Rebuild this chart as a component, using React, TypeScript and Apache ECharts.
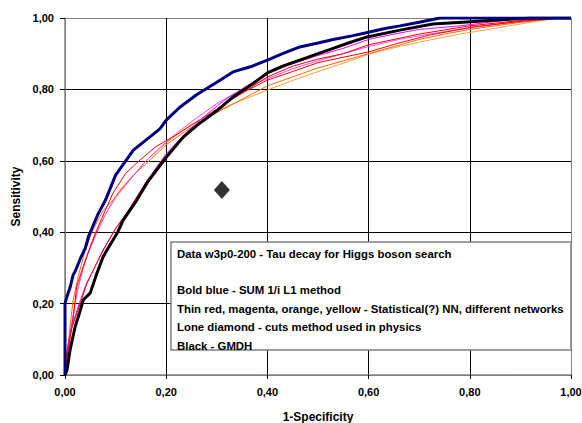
import React, { useEffect, useRef } from "react";
import * as echarts from "echarts";

const tickLabels = ["0,00", "0,20", "0,40", "0,60", "0,80", "1,00"];

const blueCurve: [number, number][] = [
  [0, 0], [0, 0.2], [0.004, 0.22], [0.01, 0.245], [0.016, 0.28], [0.02, 0.29], [0.03, 0.325],
  [0.04, 0.355], [0.047, 0.39], [0.065, 0.45], [0.08, 0.49], [0.1, 0.56], [0.12, 0.6],
  [0.135, 0.63], [0.168, 0.667], [0.188, 0.69], [0.2, 0.714], [0.227, 0.75], [0.26, 0.785],
  [0.3, 0.82], [0.332, 0.849], [0.37, 0.865], [0.4, 0.882], [0.43, 0.9], [0.464, 0.919],
  [0.5, 0.93], [0.53, 0.94], [0.567, 0.95], [0.6, 0.96], [0.63, 0.97], [0.662, 0.978],
  [0.7, 0.988], [0.741, 1.0], [1, 1],
];

const blackCurve: [number, number][] = [
  [0, 0], [0.004, 0.014], [0.01, 0.07], [0.02, 0.135], [0.03, 0.18], [0.036, 0.21], [0.05, 0.23],
  [0.063, 0.285], [0.075, 0.33], [0.083, 0.35], [0.103, 0.397], [0.115, 0.434], [0.142, 0.49],
  [0.162, 0.538], [0.2, 0.61], [0.234, 0.667], [0.267, 0.706], [0.3, 0.74], [0.332, 0.779],
  [0.37, 0.815], [0.4, 0.846], [0.43, 0.865], [0.464, 0.882], [0.5, 0.9], [0.53, 0.915],
  [0.56, 0.93], [0.597, 0.947], [0.662, 0.966], [0.727, 0.983], [0.794, 0.989], [0.86, 0.995],
  [0.92, 1], [1, 1],
];

const redLowCurve: [number, number][] = [
  [0, 0], [0.004, 0.06], [0.013, 0.13], [0.03, 0.2], [0.043, 0.255], [0.056, 0.294], [0.075, 0.35],
  [0.1, 0.41], [0.13, 0.47], [0.16, 0.54], [0.2, 0.615], [0.24, 0.67], [0.27, 0.71], [0.31, 0.755],
  [0.35, 0.79], [0.4, 0.835], [0.45, 0.865], [0.5, 0.885], [0.55, 0.9], [0.6, 0.925],
  [0.7, 0.955], [0.8, 0.978], [0.9, 0.993], [0.95, 1], [1, 1],
];

const magentaLowCurve: [number, number][] = [
  [0, 0], [0.004, 0.07], [0.012, 0.13], [0.028, 0.2], [0.042, 0.255], [0.058, 0.3], [0.078, 0.355],
  [0.1, 0.41], [0.125, 0.46], [0.16, 0.54], [0.2, 0.62], [0.24, 0.68], [0.28, 0.73], [0.32, 0.775],
  [0.36, 0.81], [0.4, 0.845], [0.45, 0.872], [0.5, 0.895], [0.55, 0.915], [0.6, 0.94],
  [0.65, 0.955], [0.7, 0.968], [0.78, 0.978], [0.85, 0.99], [0.92, 1], [1, 1],
];

const redUpCurve: [number, number][] = [
  [0, 0], [0.005, 0.06], [0.016, 0.16], [0.023, 0.247], [0.035, 0.3], [0.05, 0.36], [0.07, 0.43],
  [0.095, 0.51], [0.12, 0.565], [0.148, 0.602], [0.18, 0.64], [0.213, 0.667], [0.25, 0.7],
  [0.3, 0.745], [0.35, 0.79], [0.4, 0.826], [0.45, 0.85], [0.5, 0.875], [0.543, 0.888],
  [0.6, 0.905], [0.66, 0.93], [0.72, 0.952], [0.806, 0.975], [0.893, 0.989], [0.97, 1], [1, 1],
];

const magentaUpCurve: [number, number][] = [
  [0, 0], [0.004, 0.06], [0.014, 0.15], [0.025, 0.24], [0.04, 0.32], [0.06, 0.39], [0.08, 0.45],
  [0.1, 0.5], [0.128, 0.546], [0.16, 0.6], [0.19, 0.64], [0.221, 0.678], [0.26, 0.72], [0.3, 0.76],
  [0.35, 0.8], [0.4, 0.83], [0.45, 0.858], [0.5, 0.88], [0.55, 0.9], [0.6, 0.92], [0.66, 0.94],
  [0.72, 0.955], [0.8, 0.972], [0.88, 0.988], [0.96, 1], [1, 1],
];

const orangeCurve: [number, number][] = [
  [0, 0], [0.004, 0.05], [0.01, 0.135], [0.016, 0.21], [0.026, 0.275], [0.04, 0.35], [0.055, 0.406],
  [0.075, 0.46], [0.095, 0.49], [0.109, 0.518], [0.135, 0.56], [0.162, 0.594], [0.2, 0.645],
  [0.241, 0.686], [0.28, 0.72], [0.32, 0.75], [0.36, 0.78], [0.4, 0.81], [0.45, 0.835],
  [0.5, 0.86], [0.55, 0.88], [0.6, 0.9], [0.65, 0.92], [0.7, 0.94], [0.75, 0.955], [0.8, 0.968],
  [0.85, 0.978], [0.9, 0.988], [0.95, 0.995], [0.98, 1], [1, 1],
];

const yellowCurve: [number, number][] = [
  [0, 0], [0.005, 0.04], [0.012, 0.12], [0.02, 0.2], [0.03, 0.27], [0.045, 0.34], [0.06, 0.4],
  [0.08, 0.45], [0.1, 0.495], [0.13, 0.55], [0.16, 0.6], [0.2, 0.65], [0.247, 0.7], [0.3, 0.74],
  [0.35, 0.77], [0.4, 0.798], [0.45, 0.825], [0.5, 0.85], [0.543, 0.87], [0.603, 0.9],
  [0.66, 0.92], [0.72, 0.938], [0.78, 0.955], [0.854, 0.972], [0.92, 0.988], [0.97, 1], [1, 1],
];

const diamondPoint: [number, number][] = [[0.31, 0.518]];

const noteLines = [
  "Data w3p0-200 - Tau decay for Higgs boson search",
  "",
  "Bold blue - SUM 1/i L1 method",
  "Thin red, magenta, orange, yellow - Statistical(?) NN, different networks",
  "Lone diamond - cuts method used in physics",
  "Black - GMDH",
];

const FONT = "'Liberation Sans', Arial, sans-serif";

export default function App() {
  const ref = useRef<HTMLDivElement>(null);

  useEffect(() => {
    if (!ref.current) return;
    const chart = echarts.init(ref.current, null, { renderer: "svg" });
    const fmt = (v: number) => tickLabels[Math.round(v / 0.2)] ?? "";
    const gridColors = ["#808080", "#000", "#000", "#000", "#000", "#808080"];

    const thin = (name: string, data: [number, number][], color: string) => ({
      name,
      type: "line",
      data,
      symbol: "none",
      lineStyle: { color, width: 1 },
      z: 2,
    });

    const lineYs = [254, 0, 290, 309, 327, 346];

    const textEls = noteLines
      .map((t, i) => ({ t, y: lineYs[i] }))
      .filter((o) => o.t !== "")
      .map((o) => ({
        type: "text",
        x: 177,
        y: o.y,
        z: 101,
        style: {
          text: o.t,
          fontFamily: FONT,
          fontWeight: "bold",
          fontSize: 11.4,
          fill: "#000",
          verticalAlign: "middle",
        },
      }));

    chart.setOption({
      animation: false,
      backgroundColor: "#fff",
      grid: { left: 65, right: 11, top: 18, bottom: 48, outerBoundsMode: "none", containLabel: false },
      xAxis: {
        type: "value",
        min: 0,
        max: 1,
        interval: 0.2,
        name: "1-Specificity",
        nameLocation: "middle",
        nameGap: 36,
        nameTextStyle: { fontFamily: FONT, fontWeight: "bold", fontSize: 12, color: "#000" },
        axisLine: { show: true, lineStyle: { color: "#808080", width: 1.5 } },
        axisTick: { show: true, length: 4, lineStyle: { color: "#000" } },
        axisLabel: { formatter: fmt, fontFamily: FONT, fontWeight: "bold", fontSize: 11, color: "#000", margin: 11 },
        splitLine: { show: true, lineStyle: { color: gridColors, width: 1 } },
      },
      yAxis: {
        type: "value",
        min: 0,
        max: 1,
        interval: 0.2,
        name: "Sensitivity",
        nameLocation: "middle",
        nameGap: 41,
        nameTextStyle: { fontFamily: FONT, fontWeight: "bold", fontSize: 12, color: "#000" },
        axisLine: { show: true, lineStyle: { color: "#808080", width: 1.5 } },
        axisTick: { show: true, length: 5, lineStyle: { color: "#000" } },
        axisLabel: { formatter: fmt, fontFamily: FONT, fontWeight: "bold", fontSize: 11, color: "#000", margin: 11 },
        splitLine: { show: true, lineStyle: { color: gridColors, width: 1 } },
      },
      series: [
        thin("Yellow NN", yellowCurve, "#FFA040"),
        thin("Orange NN", orangeCurve, "#FF6600"),
        thin("Magenta NN 2", magentaUpCurve, "#FF44FF"),
        thin("Red NN 2", redUpCurve, "#FF0000"),
        thin("Magenta NN", magentaLowCurve, "#FF00FF"),
        thin("Red NN", redLowCurve, "#FF0000"),
        {
          name: "GMDH",
          type: "line",
          data: blackCurve,
          symbol: "none",
          lineStyle: { color: "#000", width: 3 },
          z: 3,
        },
        {
          name: "SUM 1/i L1",
          type: "line",
          data: blueCurve,
          symbol: "none",
          lineStyle: { color: "#000080", width: 3 },
          z: 4,
        },
        {
          name: "Cuts",
          type: "scatter",
          data: diamondPoint,
          symbol: "diamond",
          symbolSize: [16, 18],
          itemStyle: { color: "#000" },
          z: 5,
        },
      ],
      graphic: [
        {
          type: "rect",
          z: 100,
          shape: { x: 171, y: 242, width: 400, height: 108 },
          style: { fill: "#ffffff", stroke: "#808080", lineWidth: 1.5 },
        },
        ...textEls,
      ],
    });
    return () => chart.dispose();
  }, []);

  return (
    <div
      ref={ref}
      style={{ position: "fixed", left: 0, top: 0, width: 582, height: 423 }}
    />
  );
}
